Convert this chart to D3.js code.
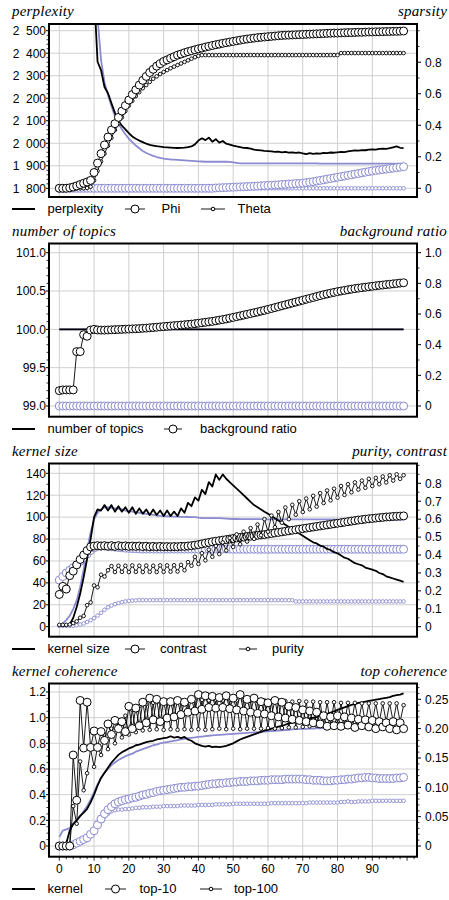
<!DOCTYPE html>
<html>
<head>
<meta charset="utf-8">
<script src="https://cdnjs.cloudflare.com/ajax/libs/d3/7.8.5/d3.min.js"></script>
<style>
  body { margin: 0; background: #fff; }
  text { font-family: "Liberation Sans", Arial, sans-serif; fill: #000; }
  text.title { font-family: "Liberation Serif", "Times New Roman", serif; font-style: italic; font-size: 15px; letter-spacing: 0.2px; }
  .tick { font-size: 12px; }
  .leg { font-size: 13px; }
</style>
</head>
<body>
<svg id="chart" width="449" height="900"></svg>
<script>
    // iterations 0..99
    var iters = d3.range(100);
    var xTicks = [0, 10, 20, 30, 40, 50, 60, 70, 80, 90];

    // ---- panel 1: perplexity / sparsity
    var perplexityA = [4800, 4500, 4200, 3950, 3700, 3500, 3300, 3100, 2950, 2800,
        2670, 2362, 2325, 2250, 2222, 2178, 2135, 2100, 2078, 2062,
        2045, 2030, 2020, 2012, 2005, 1998, 1993, 1990, 1987, 1985,
        1983, 1982, 1981, 1980, 1979, 1980, 1981, 1983, 1986, 1995,
        2012, 2022, 2014, 2025, 2007, 2018, 2003, 2010, 1998, 1994,
        1990, 1986, 1983, 1980, 1979, 1976, 1972, 1970, 1968, 1966,
        1965, 1964, 1962, 1963, 1960, 1962, 1958, 1960, 1957, 1959,
        1955, 1952, 1956, 1953, 1955, 1954, 1957, 1956, 1959, 1958,
        1960, 1962, 1961, 1964, 1966, 1968, 1967, 1970, 1969, 1972,
        1973, 1972, 1975, 1976, 1975, 1978, 1982, 1986, 1980, 1978];
    var perplexityB = [5200, 4900, 4600, 4300, 4000, 3700, 3450, 3200, 3000, 2800,
        2680, 2560, 2370, 2270, 2215, 2165, 2120, 2088, 2062, 2040,
        2020, 2005, 1990, 1978, 1966, 1957, 1950, 1944, 1939, 1935,
        1932, 1930, 1928, 1927, 1926, 1925, 1924, 1923, 1922, 1921,
        1920, 1919, 1918, 1918, 1918, 1918, 1918, 1918, 1918, 1917,
        1915, 1913, 1911, 1911, 1911, 1911, 1911, 1911, 1911, 1911,
        1911, 1911, 1911, 1911, 1911, 1911, 1911, 1911, 1911, 1911,
        1911, 1911, 1911, 1911, 1911, 1910, 1910, 1910, 1910, 1910,
        1910, 1910, 1910, 1910, 1910, 1910, 1910, 1910, 1910, 1910,
        1910, 1910, 1910, 1910, 1910, 1910, 1910, 1910, 1910, 1910];
    var phiA = [0, 0, 0, 0.003, 0.008, 0.015, 0.024, 0.032, 0.04, 0.05,
        0.1, 0.16, 0.22, 0.275, 0.325, 0.37, 0.41, 0.45, 0.49, 0.525,
        0.56, 0.595, 0.625, 0.655, 0.685, 0.71, 0.735, 0.755, 0.775, 0.79,
        0.805, 0.815, 0.825, 0.835, 0.845, 0.852, 0.86, 0.867, 0.873, 0.879,
        0.885, 0.89, 0.896, 0.901, 0.906, 0.911, 0.915, 0.92, 0.924, 0.928,
        0.932, 0.936, 0.94, 0.944, 0.947, 0.95, 0.953, 0.956, 0.958, 0.96,
        0.962, 0.964, 0.966, 0.968, 0.97, 0.971, 0.972, 0.973, 0.974, 0.975,
        0.976, 0.977, 0.978, 0.979, 0.98, 0.981, 0.982, 0.983, 0.984, 0.985,
        0.985, 0.986, 0.987, 0.988, 0.988, 0.989, 0.99, 0.99, 0.991, 0.992,
        0.992, 0.993, 0.993, 0.994, 0.995, 0.995, 0.996, 0.996, 0.997, 0.998];
    var phiB = [0, 0, 0, 0, 0, 0, 0, 0, 0, 0,
        0, 0, 0, 0, 0, 0, 0, 0, 0, 0,
        0, 0, 0, 0, 0, 0, 0, 0, 0, 0,
        0, 0, 0, 0, 0, 0, 0, 0, 0, 0,
        0, 0, 0, 0, 0, 0.002, 0.003, 0.004, 0.005, 0.006,
        0.007, 0.008, 0.009, 0.01, 0.011, 0.012, 0.013, 0.014, 0.016, 0.017,
        0.018, 0.02, 0.021, 0.022, 0.024, 0.025, 0.027, 0.028, 0.03, 0.031,
        0.033, 0.036, 0.039, 0.042, 0.046, 0.05, 0.054, 0.058, 0.062, 0.066,
        0.07, 0.074, 0.078, 0.082, 0.086, 0.09, 0.094, 0.098, 0.102, 0.106,
        0.11, 0.113, 0.116, 0.119, 0.122, 0.125, 0.128, 0.131, 0.134, 0.137];
    var thetaA = [0, 0, 0, 0, 0, 0, 0, 0, 0.002, 0.01,
        0.05, 0.11, 0.17, 0.22, 0.27, 0.32, 0.37, 0.41, 0.45, 0.49,
        0.525, 0.555, 0.585, 0.61, 0.635, 0.655, 0.675, 0.695, 0.71, 0.725,
        0.738, 0.75, 0.762, 0.772, 0.782, 0.792, 0.802, 0.812, 0.822, 0.832,
        0.84, 0.845, 0.845, 0.845, 0.845, 0.845, 0.845, 0.845, 0.845, 0.845,
        0.845, 0.845, 0.845, 0.845, 0.845, 0.845, 0.845, 0.845, 0.845, 0.845,
        0.845, 0.845, 0.845, 0.845, 0.845, 0.845, 0.845, 0.845, 0.845, 0.845,
        0.845, 0.845, 0.845, 0.845, 0.845, 0.845, 0.845, 0.845, 0.845, 0.845,
        0.845, 0.858, 0.858, 0.858, 0.858, 0.858, 0.858, 0.858, 0.858, 0.858,
        0.858, 0.858, 0.858, 0.858, 0.858, 0.858, 0.858, 0.858, 0.858, 0.858];
    var thetaB = iters.map(function() { return 0; });

    // ---- panel 2: number of topics / background ratio
    var topicsA = iters.map(function() { return 100; });
    var topicsB = iters.map(function() { return 100; });
    var bgRatioA = [0.1, 0.105, 0.105, 0.105, 0.105, 0.355, 0.355, 0.465, 0.455, 0.495,
        0.5, 0.496, 0.495, 0.495, 0.496, 0.497, 0.498, 0.499, 0.5, 0.501,
        0.502, 0.503, 0.504, 0.505, 0.507, 0.508, 0.51, 0.512, 0.514, 0.516,
        0.518, 0.52, 0.522, 0.524, 0.526, 0.528, 0.53, 0.532, 0.534, 0.537,
        0.54, 0.543, 0.546, 0.549, 0.552, 0.556, 0.56, 0.564, 0.568, 0.573,
        0.578, 0.583, 0.588, 0.593, 0.598, 0.603, 0.608, 0.613, 0.619, 0.624,
        0.63, 0.636, 0.642, 0.648, 0.654, 0.66, 0.666, 0.672, 0.678, 0.684,
        0.69, 0.696, 0.702, 0.708, 0.714, 0.72, 0.726, 0.731, 0.736, 0.741,
        0.746, 0.75, 0.754, 0.758, 0.762, 0.766, 0.769, 0.772, 0.775, 0.778,
        0.781, 0.784, 0.787, 0.789, 0.792, 0.794, 0.797, 0.799, 0.802, 0.804];
    var bgRatioB = iters.map(function() { return 0; });

    // ---- panel 3: kernel size / purity, contrast
    var kernelSizeA = [1, 1, 1, 2, 8, 18, 30, 45, 62, 80,
        100, 107, 106, 111, 106, 111, 105, 110, 105, 109,
        104, 109, 103, 108, 103, 107, 102, 107, 102, 106,
        101, 106, 101, 105, 101, 108, 104, 113, 110, 118,
        115, 125, 121, 132, 128, 139, 134, 139, 135, 132,
        129, 126, 123, 120, 117, 114, 111, 109, 107, 105,
        103, 101, 99, 97, 95, 93, 91, 89, 87, 85,
        83, 81, 79, 77, 76, 74, 73, 71, 70, 68,
        67, 65, 63, 62, 60, 58, 57, 56, 54, 53,
        52, 51, 49, 48, 46, 45, 44, 43, 42, 41];
    var kernelSizeB = [1, 3, 6, 10, 16, 24, 36, 52, 70, 86,
        98, 104, 107, 109, 109, 108.5, 108, 107.5, 107, 106,
        105.5, 105, 104.5, 104, 103.5, 103, 102.5, 102, 101.5, 101.2,
        101, 100.8, 100.6, 100.5, 100.4, 100.3, 100.2, 100.1, 100, 100,
        99.5, 99.2, 99, 99, 99, 99, 99, 98.8, 98.6, 98.4,
        98.3, 98.3, 98.2, 98.2, 98.2, 98.1, 98.1, 98.1, 98.1, 98,
        98, 98, 98, 98, 98, 98, 98, 98, 98, 98,
        97.9, 97.9, 97.9, 97.9, 97.9, 97.9, 97.9, 97.9, 97.9, 97.9,
        97.8, 97.8, 97.8, 97.8, 97.8, 97.8, 97.8, 97.8, 97.8, 97.8,
        97.8, 97.8, 97.8, 97.8, 97.8, 97.8, 97.8, 97.8, 97.8, 97.8];
    var contrastA = [0.18, 0.225, 0.21, 0.285, 0.31, 0.345, 0.375, 0.4, 0.425, 0.445,
        0.45, 0.452, 0.45, 0.452, 0.449, 0.452, 0.448, 0.452, 0.449, 0.451,
        0.448, 0.45, 0.448, 0.45, 0.447, 0.449, 0.446, 0.448, 0.446, 0.448,
        0.446, 0.447, 0.446, 0.447, 0.446, 0.448, 0.448, 0.45, 0.452, 0.455,
        0.458, 0.462, 0.466, 0.47, 0.474, 0.477, 0.48, 0.483, 0.486, 0.489,
        0.492, 0.495, 0.498, 0.5, 0.503, 0.505, 0.507, 0.51, 0.512, 0.514,
        0.517, 0.52, 0.523, 0.526, 0.529, 0.532, 0.535, 0.538, 0.541, 0.544,
        0.547, 0.55, 0.553, 0.556, 0.559, 0.562, 0.565, 0.568, 0.571, 0.574,
        0.577, 0.58, 0.583, 0.586, 0.589, 0.592, 0.595, 0.597, 0.6, 0.602,
        0.604, 0.606, 0.608, 0.61, 0.612, 0.613, 0.615, 0.616, 0.617, 0.618];
    var contrastB = [0.26, 0.28, 0.3, 0.315, 0.33, 0.345, 0.365, 0.385, 0.405, 0.425,
        0.44, 0.448, 0.45, 0.45, 0.448, 0.446, 0.444, 0.442, 0.44, 0.438,
        0.437, 0.436, 0.435, 0.434, 0.433, 0.433, 0.433, 0.433, 0.433, 0.433,
        0.433, 0.433, 0.433, 0.433, 0.433, 0.433, 0.433, 0.433, 0.433, 0.433,
        0.433, 0.433, 0.433, 0.433, 0.433, 0.433, 0.433, 0.433, 0.433, 0.433,
        0.432, 0.432, 0.432, 0.432, 0.432, 0.432, 0.432, 0.432, 0.432, 0.432,
        0.432, 0.432, 0.432, 0.432, 0.432, 0.432, 0.432, 0.432, 0.432, 0.432,
        0.432, 0.432, 0.432, 0.432, 0.432, 0.432, 0.432, 0.432, 0.432, 0.432,
        0.432, 0.432, 0.432, 0.432, 0.432, 0.432, 0.432, 0.432, 0.432, 0.432,
        0.432, 0.432, 0.432, 0.432, 0.432, 0.432, 0.432, 0.432, 0.432, 0.432];
    var purityA = [0.01, 0.01, 0.01, 0.012, 0.02, 0.03, 0.05, 0.06, 0.12, 0.135,
        0.23, 0.22, 0.29, 0.28, 0.315, 0.338, 0.305, 0.34, 0.306, 0.34,
        0.305, 0.342, 0.306, 0.34, 0.305, 0.341, 0.306, 0.34, 0.305, 0.342,
        0.306, 0.342, 0.307, 0.343, 0.308, 0.345, 0.315, 0.36, 0.34, 0.39,
        0.35, 0.41, 0.37, 0.43, 0.39, 0.45, 0.405, 0.47, 0.425, 0.495,
        0.445, 0.515, 0.46, 0.53, 0.475, 0.55, 0.49, 0.57, 0.51, 0.6,
        0.53, 0.62, 0.555, 0.64, 0.58, 0.665, 0.6, 0.68, 0.625, 0.7,
        0.64, 0.715, 0.655, 0.73, 0.67, 0.745, 0.69, 0.76, 0.705, 0.77,
        0.72, 0.785, 0.735, 0.795, 0.75, 0.805, 0.765, 0.815, 0.775, 0.825,
        0.785, 0.83, 0.795, 0.838, 0.805, 0.845, 0.815, 0.85, 0.825, 0.845];
    var purityB = [0.005, 0.005, 0.005, 0.005, 0.005, 0.008, 0.012, 0.018, 0.026, 0.036,
        0.048, 0.062, 0.078, 0.094, 0.108, 0.118, 0.126, 0.132, 0.137, 0.141,
        0.144, 0.146, 0.147, 0.148, 0.148, 0.148, 0.148, 0.148, 0.148, 0.148,
        0.148, 0.148, 0.148, 0.148, 0.148, 0.148, 0.148, 0.148, 0.148, 0.148,
        0.148, 0.148, 0.148, 0.148, 0.148, 0.148, 0.148, 0.148, 0.148, 0.148,
        0.148, 0.148, 0.148, 0.148, 0.148, 0.148, 0.148, 0.148, 0.148, 0.148,
        0.148, 0.148, 0.148, 0.148, 0.148, 0.148, 0.148, 0.148, 0.141, 0.141,
        0.141, 0.141, 0.141, 0.141, 0.141, 0.141, 0.141, 0.141, 0.141, 0.141,
        0.141, 0.141, 0.141, 0.141, 0.141, 0.141, 0.141, 0.141, 0.141, 0.141,
        0.141, 0.141, 0.141, 0.141, 0.141, 0.141, 0.141, 0.141, 0.141, 0.141];

    // ---- panel 4: kernel coherence / top coherence
    var kernelCohA = [0, 0, 0.02, 0.12, 0.17, 0.2, 0.235, 0.26, 0.29, 0.34,
        0.4, 0.47, 0.53, 0.57, 0.61, 0.65, 0.68, 0.71, 0.73, 0.745,
        0.76, 0.77, 0.785, 0.79, 0.8, 0.81, 0.815, 0.82, 0.83, 0.835,
        0.84, 0.845, 0.855, 0.845, 0.85, 0.84, 0.85, 0.83, 0.82, 0.8,
        0.79, 0.78, 0.775, 0.78, 0.77, 0.775, 0.77, 0.775, 0.78, 0.79,
        0.8, 0.815, 0.83, 0.84, 0.85, 0.86, 0.87, 0.88, 0.89, 0.9,
        0.905, 0.915, 0.92, 0.93, 0.935, 0.945, 0.955, 0.96, 0.965, 0.975,
        0.98, 0.99, 0.995, 1.0, 1.005, 1.015, 1.02, 1.03, 1.04, 1.05,
        1.06, 1.07, 1.08, 1.09, 1.1, 1.105, 1.115, 1.12, 1.125, 1.13,
        1.135, 1.14, 1.145, 1.15, 1.155, 1.16, 1.17, 1.175, 1.18, 1.19];
    var kernelCohB = [0.07, 0.12, 0.13, 0.14, 0.175, 0.2, 0.23, 0.27, 0.31, 0.36,
        0.42, 0.48, 0.53, 0.57, 0.6, 0.63, 0.65, 0.67, 0.685, 0.7,
        0.71, 0.72, 0.735, 0.745, 0.755, 0.765, 0.775, 0.785, 0.79, 0.8,
        0.805, 0.81, 0.815, 0.82, 0.825, 0.83, 0.835, 0.84, 0.843, 0.846,
        0.85, 0.853, 0.856, 0.859, 0.862, 0.864, 0.866, 0.868, 0.87, 0.872,
        0.874, 0.876, 0.878, 0.88, 0.882, 0.884, 0.886, 0.888, 0.89, 0.892,
        0.894, 0.896, 0.898, 0.9, 0.902, 0.904, 0.906, 0.908, 0.91, 0.911,
        0.912, 0.913, 0.914, 0.915, 0.916, 0.917, 0.918, 0.919, 0.92, 0.921,
        0.922, 0.923, 0.924, 0.925, 0.926, 0.926, 0.927, 0.927, 0.927, 0.926,
        0.925, 0.924, 0.923, 0.922, 0.921, 0.92, 0.919, 0.918, 0.918, 0.917];
    var top10A = [0, 0, 0, 0, 0.155, 0.078, 0.248, 0.167, 0.245, 0.168,
        0.196, 0.168, 0.195, 0.18, 0.208, 0.19, 0.214, 0.2, 0.212, 0.195,
        0.238, 0.2, 0.235, 0.205, 0.245, 0.21, 0.252, 0.215, 0.25, 0.212,
        0.246, 0.218, 0.246, 0.22, 0.248, 0.224, 0.245, 0.228, 0.25, 0.23,
        0.258, 0.233, 0.256, 0.236, 0.255, 0.235, 0.253, 0.236, 0.256, 0.234,
        0.252, 0.232, 0.258, 0.23, 0.25, 0.228, 0.252, 0.226, 0.246, 0.225,
        0.244, 0.222, 0.248, 0.22, 0.245, 0.218, 0.238, 0.216, 0.236, 0.214,
        0.232, 0.212, 0.23, 0.21, 0.228, 0.208, 0.222, 0.204, 0.22, 0.205,
        0.222, 0.204, 0.22, 0.206, 0.218, 0.202, 0.216, 0.205, 0.215, 0.203,
        0.214, 0.2, 0.212, 0.203, 0.21, 0.2, 0.212, 0.198, 0.21, 0.2];
    var top10B = [0, 0, 0, 0, 0.002, 0.005, 0.008, 0.011, 0.014, 0.02,
        0.026, 0.036, 0.046, 0.055, 0.062, 0.067, 0.072, 0.075, 0.077, 0.079,
        0.08, 0.082, 0.083, 0.085, 0.087, 0.088, 0.09, 0.091, 0.093, 0.094,
        0.095, 0.096, 0.097, 0.098, 0.099, 0.1, 0.1, 0.101, 0.101, 0.102,
        0.102, 0.103, 0.104, 0.105, 0.106, 0.106, 0.107, 0.107, 0.108, 0.108,
        0.109, 0.109, 0.11, 0.11, 0.11, 0.111, 0.111, 0.111, 0.112, 0.112,
        0.112, 0.113, 0.113, 0.113, 0.113, 0.114, 0.114, 0.114, 0.114, 0.114,
        0.114, 0.113, 0.113, 0.112, 0.112, 0.112, 0.111, 0.111, 0.111, 0.112,
        0.112, 0.113, 0.113, 0.114, 0.114, 0.115, 0.116, 0.116, 0.117, 0.117,
        0.116, 0.116, 0.115, 0.115, 0.115, 0.115, 0.115, 0.116, 0.116, 0.117];
    var top100A = [0, 0, 0, 0, 0.068, 0.038, 0.144, 0.095, 0.124, 0.165,
        0.135, 0.17, 0.155, 0.19, 0.165, 0.2, 0.175, 0.21, 0.185, 0.222,
        0.19, 0.232, 0.194, 0.238, 0.197, 0.242, 0.198, 0.244, 0.199, 0.245,
        0.198, 0.246, 0.199, 0.247, 0.198, 0.248, 0.199, 0.247, 0.198, 0.248,
        0.199, 0.249, 0.198, 0.248, 0.199, 0.249, 0.2, 0.248, 0.199, 0.249,
        0.2, 0.248, 0.199, 0.249, 0.2, 0.248, 0.2, 0.247, 0.2, 0.248,
        0.201, 0.247, 0.2, 0.248, 0.201, 0.247, 0.202, 0.246, 0.202, 0.247,
        0.203, 0.246, 0.204, 0.246, 0.205, 0.245, 0.206, 0.245, 0.207, 0.245,
        0.208, 0.244, 0.208, 0.244, 0.209, 0.244, 0.21, 0.243, 0.21, 0.243,
        0.211, 0.243, 0.211, 0.243, 0.212, 0.243, 0.212, 0.243, 0.212, 0.24];
    var top100B = [0, 0, 0, 0, 0.002, 0.004, 0.007, 0.011, 0.016, 0.021,
        0.027, 0.035, 0.043, 0.05, 0.055, 0.059, 0.061, 0.062, 0.062, 0.063,
        0.063, 0.064, 0.065, 0.065, 0.066, 0.066, 0.066, 0.067, 0.067, 0.067,
        0.068, 0.068, 0.068, 0.068, 0.068, 0.069, 0.069, 0.069, 0.069, 0.069,
        0.07, 0.07, 0.07, 0.07, 0.07, 0.071, 0.071, 0.071, 0.071, 0.071,
        0.072, 0.072, 0.072, 0.072, 0.072, 0.072, 0.072, 0.072, 0.072, 0.072,
        0.072, 0.073, 0.073, 0.073, 0.073, 0.073, 0.073, 0.073, 0.073, 0.073,
        0.073, 0.073, 0.074, 0.074, 0.074, 0.074, 0.074, 0.074, 0.074, 0.074,
        0.074, 0.075, 0.075, 0.076, 0.075, 0.075, 0.076, 0.076, 0.076, 0.076,
        0.077, 0.077, 0.077, 0.077, 0.077, 0.077, 0.077, 0.077, 0.077, 0.077];

    // tick values
    var perplexityTicks = [1800, 1900, 2000, 2100, 2200, 2300, 2400, 2500];
    var sparsityTicks = [0, 0.2, 0.4, 0.6, 0.8];
    var topicsTicks = [99, 99.5, 100, 100.5, 101];
    var ratioTicks = [0, 0.2, 0.4, 0.6, 0.8, 1.0];
    var kernelTicks = [0, 20, 40, 60, 80, 100, 120, 140];
    var purityTicks = [0, 0.1, 0.2, 0.3, 0.4, 0.5, 0.6, 0.7, 0.8];
    var cohTicks = [0, 0.2, 0.4, 0.6, 0.8, 1.0, 1.2];
    var topCohTicks = [0, 0.05, 0.1, 0.15, 0.2, 0.25];

    var BLUE = '#8b8bd1';
    // thousands grouped with a figure space: "2 500"
    var spaced = d3.formatLocale({decimal: '.', thousands: '\u2007', grouping: [3], currency: ['', '']}).format(',');
    function zeroOr(f) {
        return function(v) { return v === 0 ? '0' : d3.format(f)(v); };
    }

    var panels = [{
        top: 24, bottom: 197, lt: 'perplexity', rt: 'sparsity',
        left: {domain: [1800, 2500], range: [188.3, 30.7], ticks: perplexityTicks, minor: 20, fmt: spaced},
        right: {domain: [0, 1], range: [188.3, 30.7], ticks: sparsityTicks, minor: 0.1, max: 1, fmt: zeroOr('.1f')},
        series: [
            {data: perplexityB, axis: 'l', kind: 'line', color: BLUE},
            {data: thetaB, axis: 'r', kind: 'small', color: BLUE},
            {data: phiB, axis: 'r', kind: 'big', color: BLUE},
            {data: perplexityA, axis: 'l', kind: 'line', color: '#000'},
            {data: thetaA, axis: 'r', kind: 'small', color: '#000'},
            {data: phiA, axis: 'r', kind: 'big', color: '#000'}
        ],
        legendY: 213,
        legend: [
            {kind: 'line', x1: 12, x2: 35, text: 'perplexity', tx: 47.5},
            {kind: 'big', x1: 125, x2: 145, text: 'Phi', tx: 161.5},
            {kind: 'small', x1: 201, x2: 225, text: 'Theta', tx: 237.5}
        ]
    }, {
        top: 243.5, bottom: 416.7, lt: 'number of topics', rt: 'background ratio',
        left: {domain: [99, 101], range: [406, 252.7], ticks: topicsTicks, minor: 0.1, fmt: d3.format('.1f')},
        right: {domain: [0, 1], range: [406, 252.7], ticks: ratioTicks, minor: 0.1, max: 1, fmt: zeroOr('.1f')},
        series: [
            {data: topicsB, axis: 'l', kind: 'line', color: BLUE},
            {data: bgRatioB, axis: 'r', kind: 'big', color: BLUE},
            {data: topicsA, axis: 'l', kind: 'line', color: '#000'},
            {data: bgRatioA, axis: 'r', kind: 'big', color: '#000'}
        ],
        legendY: 433,
        legend: [
            {kind: 'line', x1: 12, x2: 35, text: 'number of topics', tx: 47.5},
            {kind: 'big', x1: 164, x2: 182, text: 'background ratio', tx: 200}
        ]
    }, {
        top: 463.5, bottom: 636.7, lt: 'kernel size', rt: 'purity, contrast',
        left: {domain: [0, 140], range: [626.7, 473.3], ticks: kernelTicks, minor: 10, fmt: d3.format('d')},
        right: {domain: [0, 0.8], range: [626.7, 483.3], ticks: purityTicks, minor: 0.05, max: 0.9, fmt: zeroOr('.1f')},
        series: [
            {data: kernelSizeB, axis: 'l', kind: 'line', color: BLUE},
            {data: purityB, axis: 'r', kind: 'small', color: BLUE},
            {data: contrastB, axis: 'r', kind: 'big', color: BLUE},
            {data: kernelSizeA, axis: 'l', kind: 'line', color: '#000'},
            {data: contrastA, axis: 'r', kind: 'big', color: '#000'},
            {data: purityA, axis: 'r', kind: 'small', color: '#000'}
        ],
        legendY: 653,
        legend: [
            {kind: 'line', x1: 12, x2: 35, text: 'kernel size', tx: 47.5},
            {kind: 'big', x1: 125, x2: 145, text: 'contrast', tx: 160},
            {kind: 'small', x1: 239, x2: 257, text: 'purity', tx: 272}
        ]
    }, {
        top: 683.5, bottom: 856.7, lt: 'kernel coherence', rt: 'top coherence', xLabels: true,
        left: {domain: [0, 1.2], range: [846, 692], ticks: cohTicks, minor: 0.05, fmt: zeroOr('.1f')},
        right: {domain: [0, 0.25], range: [846, 699.3], ticks: topCohTicks, minor: 0.01, max: 0.27, fmt: zeroOr('.2f')},
        series: [
            {data: kernelCohB, axis: 'l', kind: 'line', color: BLUE},
            {data: top100B, axis: 'r', kind: 'small', color: BLUE},
            {data: top10B, axis: 'r', kind: 'big', color: BLUE},
            {data: kernelCohA, axis: 'l', kind: 'line', color: '#000'},
            {data: top100A, axis: 'r', kind: 'small', color: '#000'},
            {data: top10A, axis: 'r', kind: 'big', color: '#000'}
        ],
        legendY: 893,
        legend: [
            {kind: 'line', x1: 12, x2: 35, text: 'kernel', tx: 47.5},
            {kind: 'big', x1: 105, x2: 126, text: 'top-10', tx: 139.5},
            {kind: 'small', x1: 200, x2: 222, text: 'top-100', tx: 234}
        ]
    }];

    var svg = d3.select('#chart');
    var frameL = 49, frameR = 417;
    var x = d3.scaleLinear().domain([0, 90]).range([59.3, 372.3]);
    var R_BIG = 4, R_SMALL = 1.8;

    panels.forEach(function(p, k) {
        var g = svg.append('g');
        var yl = d3.scaleLinear().domain(p.left.domain).range(p.left.range);
        var yr = d3.scaleLinear().domain(p.right.domain).range(p.right.range);

        svg.append('clipPath').attr('id', 'clip' + k).append('rect')
            .attr('x', frameL).attr('y', p.top)
            .attr('width', frameR - frameL).attr('height', p.bottom - p.top);

        // grid
        g.selectAll('line.vg').data(xTicks).join('line')
            .attr('x1', function(d) { return x(d); }).attr('x2', function(d) { return x(d); })
            .attr('y1', p.top).attr('y2', p.bottom)
            .attr('stroke', '#cfcfcf').attr('stroke-width', 1);
        g.selectAll('line.hg').data(p.left.ticks).join('line')
            .attr('x1', frameL).attr('x2', frameR)
            .attr('y1', function(d) { return yl(d); }).attr('y2', function(d) { return yl(d); })
            .attr('stroke', '#cfcfcf').attr('stroke-width', 1);

        // series
        var plot = g.append('g').attr('clip-path', 'url(#clip' + k + ')');
        p.series.forEach(function(s) {
            var y = s.axis === 'l' ? yl : yr;
            var line = d3.line().x(function(d, i) { return x(i); }).y(function(d) { return y(d); });
            plot.append('path').datum(s.data)
                .attr('d', line)
                .attr('fill', 'none')
                .attr('stroke', s.color)
                .attr('stroke-width', s.kind === 'line' ? 1.8 : 0.9)
                .attr('stroke-linejoin', 'round');
            if (s.kind !== 'line') {
                plot.append('g').selectAll('circle').data(s.data).join('circle')
                    .attr('cx', function(d, i) { return x(i); })
                    .attr('cy', function(d) { return y(d); })
                    .attr('r', s.kind === 'big' ? R_BIG : R_SMALL)
                    .attr('fill', '#fff')
                    .attr('stroke', s.color)
                    .attr('stroke-width', s.kind === 'big' ? 1 : 0.9);
            }
        });

        // axes ticks
        function minorValues(ax, max) {
            var d = ax.domain, vals = [];
            var hi = max !== undefined ? max : d[1];
            for (var v = d[0]; v <= hi + 1e-9; v += ax.minor) vals.push(+v.toFixed(4));
            return vals.filter(function(v) {
                return !ax.ticks.some(function(t) { return Math.abs(t - v) < 1e-6; });
            });
        }
        g.selectAll('line.lmin').data(minorValues(p.left)).join('line')
            .attr('x1', frameL - 2.5).attr('x2', frameL)
            .attr('y1', function(d) { return yl(d); }).attr('y2', function(d) { return yl(d); })
            .attr('stroke', '#000').attr('stroke-width', 0.8);
        g.selectAll('line.lmaj').data(p.left.ticks).join('line')
            .attr('x1', frameL - 3).attr('x2', frameL)
            .attr('y1', function(d) { return yl(d); }).attr('y2', function(d) { return yl(d); })
            .attr('stroke', '#000').attr('stroke-width', 1);
        g.selectAll('text.ll').data(p.left.ticks).join('text')
            .attr('class', 'tick')
            .attr('x', 46).attr('y', function(d) { return yl(d); })
            .attr('dy', '0.36em').attr('text-anchor', 'end')
            .text(p.left.fmt);

        g.selectAll('line.rmin').data(minorValues(p.right, p.right.max)).join('line')
            .attr('x1', frameR).attr('x2', frameR + 2.5)
            .attr('y1', function(d) { return yr(d); }).attr('y2', function(d) { return yr(d); })
            .attr('stroke', '#000').attr('stroke-width', 0.8);
        g.selectAll('line.rmaj').data(p.right.ticks).join('line')
            .attr('x1', frameR).attr('x2', frameR + 4)
            .attr('y1', function(d) { return yr(d); }).attr('y2', function(d) { return yr(d); })
            .attr('stroke', '#000').attr('stroke-width', 1);
        g.selectAll('text.rl').data(p.right.ticks).join('text')
            .attr('class', 'tick')
            .attr('x', 425).attr('y', function(d) { return yr(d); })
            .attr('dy', '0.36em')
            .text(p.right.fmt);

        if (p.xLabels) {
            g.selectAll('line.bmin').data(d3.range(0, 103, 2)).join('line')
                .attr('x1', function(d) { return x(d); }).attr('x2', function(d) { return x(d); })
                .attr('y1', p.bottom).attr('y2', function(d) { return p.bottom + (d % 10 === 0 ? 4 : 2.5); })
                .attr('stroke', '#000').attr('stroke-width', 0.8);
            g.selectAll('text.bl').data(xTicks).join('text')
                .attr('class', 'tick')
                .attr('x', function(d) { return x(d); }).attr('y', p.bottom + 16.5)
                .attr('text-anchor', 'middle')
                .text(function(d) { return d; });
        }

        // frame
        g.append('rect')
            .attr('x', frameL).attr('y', p.top)
            .attr('width', frameR - frameL).attr('height', p.bottom - p.top)
            .attr('fill', 'none').attr('stroke', '#000').attr('stroke-width', 2);

        // titles
        g.append('text').attr('class', 'title').attr('x', 12).attr('y', p.top - 8).text(p.lt);
        g.append('text').attr('class', 'title').attr('x', 447).attr('y', p.top - 8)
            .attr('text-anchor', 'end').text(p.rt);

        // legend
        var ly = p.legendY - 4;
        p.legend.forEach(function(item) {
            g.append('line').attr('x1', item.x1).attr('x2', item.x2).attr('y1', ly).attr('y2', ly)
                .attr('stroke', '#000').attr('stroke-width', item.kind === 'line' ? 2 : 0.9);
            if (item.kind !== 'line') {
                g.append('circle').attr('cx', (item.x1 + item.x2) / 2).attr('cy', ly)
                    .attr('r', item.kind === 'big' ? R_BIG : R_SMALL)
                    .attr('fill', '#fff').attr('stroke', '#000').attr('stroke-width', 1);
            }
            g.append('text').attr('class', 'leg').attr('x', item.tx).attr('y', p.legendY).text(item.text);
        });
    });
</script>
</body>
</html>
